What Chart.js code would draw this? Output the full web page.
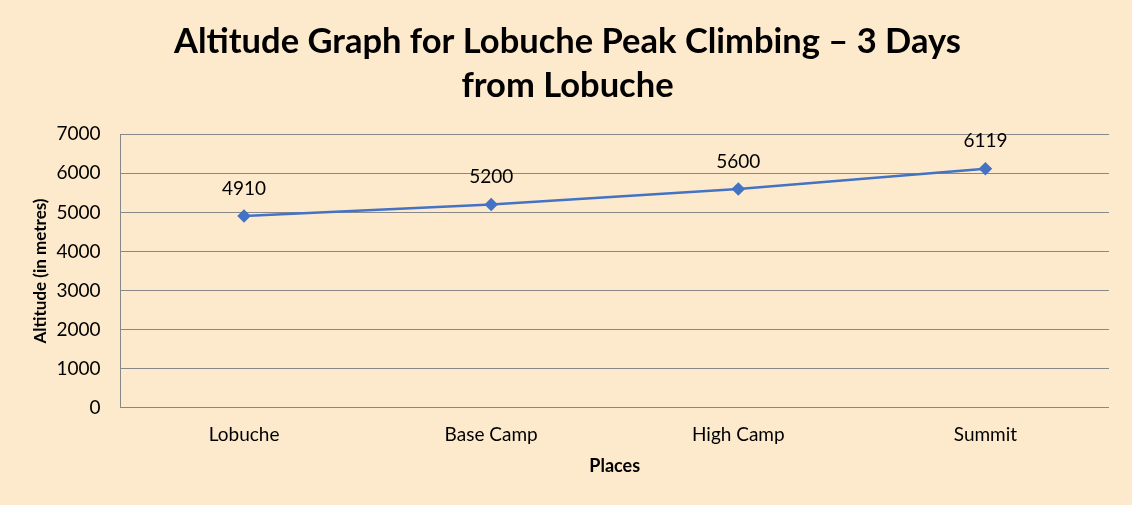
<!DOCTYPE html>
<html>
<head>
<meta charset="utf-8">
<script src="https://cdn.jsdelivr.net/npm/chart.js@4/dist/chart.umd.min.js"></script>
<style>
  html, body { margin: 0; padding: 0; background: #FDEACD; }
  #wrap { width: 1132px; height: 505px; }
</style>
</head>
<body>
<div id="wrap"><canvas id="altitudeChart"></canvas></div>
<script>
// data
const places = ["Lobuche", "Base Camp", "High Camp", "Summit"];
const altitudes = [4910, 5200, 5600, 6119];
const titleLines = ["Altitude Graph for Lobuche Peak Climbing \u2013 3 Days", "from Lobuche"];

const FONT = "Lato, 'Open Sans', sans-serif";

// writes the value above each point
const pointLabels = {
    id: 'pointLabels',
    afterDatasetsDraw(chart) {
        const ctx = chart.ctx;
        const meta = chart.getDatasetMeta(0);
        ctx.save();
        ctx.font = "19px " + FONT;
        ctx.fillStyle = '#000';
        ctx.textAlign = 'center';
        ctx.textBaseline = 'bottom';
        meta.data.forEach((pt, i) => {
            ctx.fillText(String(altitudes[i]), pt.x, pt.y - 18);
        });
        ctx.restore();
    }
};

let chartCanvas = document.querySelector('#altitudeChart');
let chart = new Chart(chartCanvas, {
    type: 'line',
    data: {
        labels: places,
        datasets: [{
            data: altitudes,
            borderColor: '#4472C4',
            backgroundColor: '#4472C4',
            borderWidth: 2.5,
            pointStyle: 'rectRot',
            pointRadius: 5,
            pointHoverRadius: 5,
            tension: 0
        }]
    },
    options: {
        responsive: true,
        maintainAspectRatio: false,
        animation: false,
        layout: { padding: { top: 20, left: 26, right: 23, bottom: 24 } },
        plugins: {
            legend: { display: false },
            tooltip: { enabled: false },
            title: {
                display: true,
                text: titleLines,
                color: '#000',
                font: { family: FONT, size: 34.5, weight: 'bold', lineHeight: 1.28 },
                padding: { top: 0, bottom: 26 }
            }
        },
        scales: {
            x: {
                offset: true,
                grid: { display: false, drawTicks: false },
                border: { display: false },
                ticks: { color: '#000', font: { family: FONT, size: 19 }, padding: 16 },
                title: {
                    display: true,
                    text: 'Places',
                    color: '#000',
                    font: { family: FONT, size: 18, weight: 'bold' },
                    padding: { top: -7, bottom: 4 }
                }
            },
            y: {
                min: 0,
                max: 7000,
                ticks: {
                    stepSize: 1000,
                    color: '#000',
                    font: { family: FONT, size: 19 },
                    padding: 20,
                    callback: v => String(v)
                },
                grid: { color: '#888888', lineWidth: 1, drawTicks: false },
                border: { display: true, color: '#888888' },
                title: {
                    display: true,
                    text: 'Altitude (in metres)',
                    color: '#000',
                    font: { family: FONT, size: 17, weight: 'bold' },
                    padding: { top: 4, bottom: -14 }
                }
            }
        }
    },
    plugins: [pointLabels]
});
</script>
</body>
</html>
